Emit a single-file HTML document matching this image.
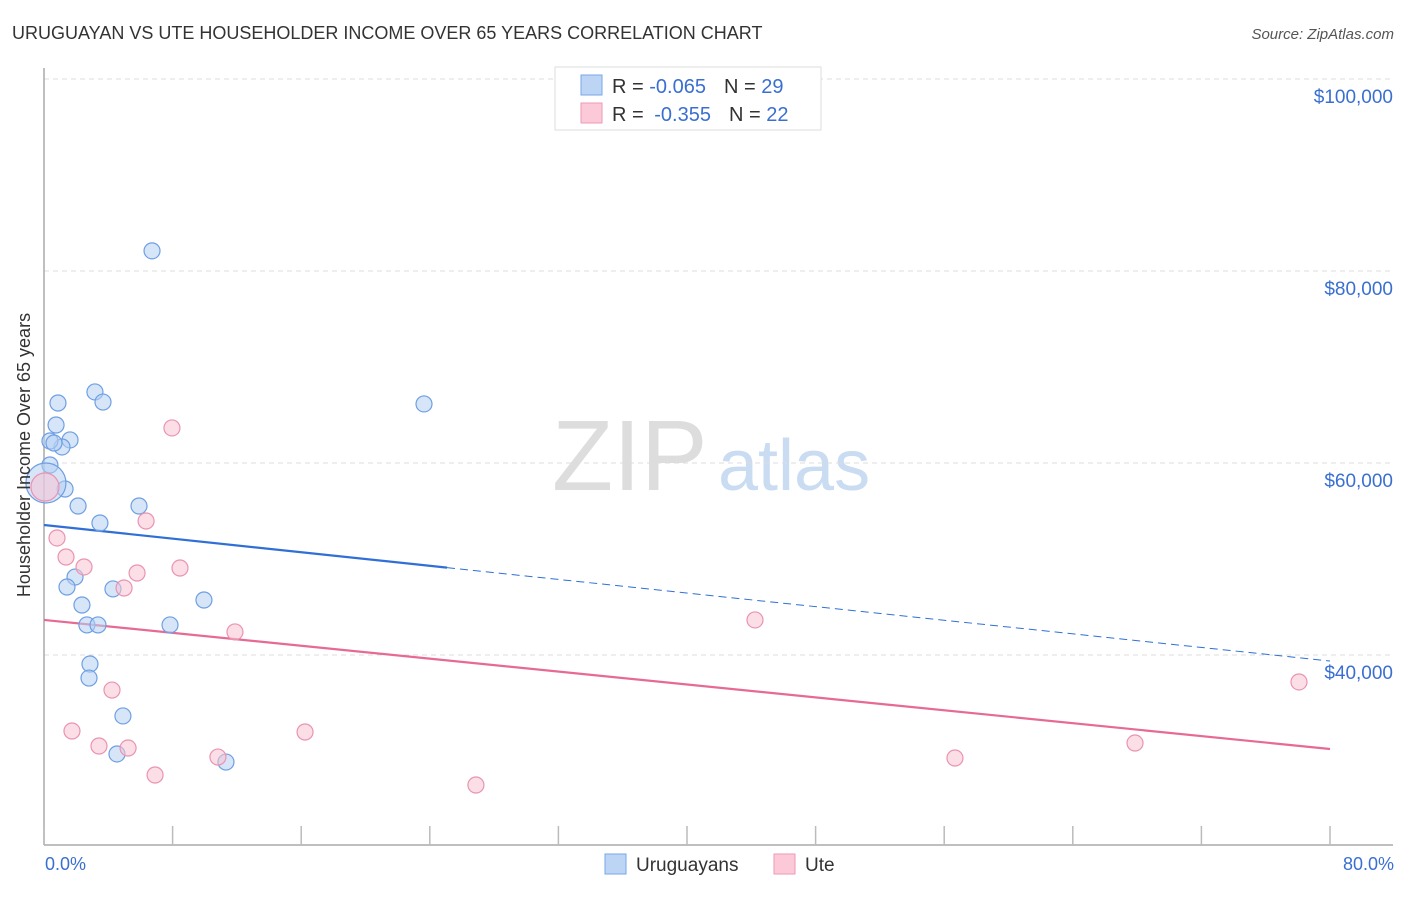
<!DOCTYPE html>
<html><head><meta charset="utf-8"><style>
body{margin:0;background:#fff;font-family:"Liberation Sans",sans-serif}
svg text{font-family:"Liberation Sans",sans-serif}
</style></head><body>
<svg id="chart" width="1406" height="892" viewBox="0 0 1406 892">
<text x="12" y="39" font-size="18" fill="#333">URUGUAYAN VS UTE HOUSEHOLDER INCOME OVER 65 YEARS CORRELATION CHART</text>
<text x="1394" y="39" font-size="15" fill="#555" font-style="italic" text-anchor="end">Source: ZipAtlas.com</text>
<g>
<text x="552" y="490" font-size="100" fill="#ddd" font-family="Liberation Serif">ZIP</text>
<text x="718" y="490" font-size="72" fill="#c9dcf2">atlas</text>
</g>
<g id="grid"></g>
<g id="axes"></g>
<g id="lines"></g>
<g id="points"></g>
<text x="30" y="455" font-size="18" fill="#333" text-anchor="middle" transform="rotate(-90 30 455)">Householder Income Over 65 years</text>
<text x="45" y="870" font-size="18" fill="#3a6fd1">0.0%</text>
<text x="1394" y="870" font-size="18" fill="#3a6fd1" text-anchor="end">80.0%</text>
<g>
<rect x="555" y="67" width="266" height="63" fill="#fff" stroke="#ddd"/>
<rect x="581" y="75" width="21" height="20" fill="#bcd5f5" stroke="#7aa6e6"/>
<rect x="581" y="103" width="21" height="20" fill="#fbc9d8" stroke="#ee9ab5"/>
<text x="612" y="93" font-size="20" fill="#333">R = <tspan fill="#3a6fd1">-0.065</tspan><tspan dx="18">N = </tspan><tspan fill="#3a6fd1">29</tspan></text>
<text x="612" y="121" font-size="20" fill="#333">R = <tspan fill="#3a6fd1" dx="5">-0.355</tspan><tspan dx="18">N = </tspan><tspan fill="#3a6fd1">22</tspan></text>
</g>
<g>
<rect x="605" y="854" width="21" height="20" fill="#bcd5f5" stroke="#7aa6e6"/>
<text x="636" y="871" font-size="19" fill="#333">Uruguayans</text>
<rect x="774" y="854" width="21" height="20" fill="#fbc9d8" stroke="#ee9ab5"/>
<text x="805" y="871" font-size="19" fill="#333">Ute</text>
</g>
</svg>
<script>
const blueX=[6.72,3.17,3.67,0.87,23.64,0.75,1.62,1.12,0.37,0.37,1.31,2.12,5.91,3.48,1.93,1.43,4.29,2.36,9.95,2.67,3.36,7.84,2.86,2.80,4.91,4.54,11.32,0.12,0.62];
const blueY=[82100,67400,66350,66250,66150,63960,62400,61670,62290,59790,57290,55520,55520,53750,48120,47080,46880,45210,45730,43130,43130,43130,39060,37600,33650,29690,28850,57920,62080];
const blueR=[8,8,8,8,8,8,8,8,8,8,8,8,8,8,8,8,8,8,8,8,8,8,8,8,8,8,8,20,8];
const pinkX=[7.96,6.35,0.81,1.37,2.49,5.79,8.46,4.98,11.88,44.23,4.23,1.74,3.42,5.23,16.24,10.82,6.91,26.87,56.67,67.87,78.07,0.06];
const pinkY=[63650,53960,52190,50210,49170,48540,49060,46980,42400,43650,36350,32080,30520,30310,31980,29370,27500,26460,29270,30830,37190,57500];
const pinkR=[8,8,8,8,8,8,8,8,8,8,8,8,8,8,8,8,8,8,8,8,8,14];
const yTicks=[100000,80000,60000,40000];
const yTickLabels=["$100,000","$80,000","$60,000","$40,000"];
const xTicks=[0,8,16,24,32,40,48,56,64,72,80];
const blueTrend=[53540,39370];
const pinkTrend=[43650,30210];
const blueSolidEnd=25.07;
const NS="http://www.w3.org/2000/svg";
const sx=v=>44+v/80*1286;
const sy=v=>79+(100000-v)/20000*192;
function mk(tag,attrs,parent){const e=document.createElementNS(NS,tag);for(const k in attrs)e.setAttribute(k,attrs[k]);document.getElementById(parent).appendChild(e);return e;}
yTicks.forEach((t,i)=>{
 const g=mk('line',{x1:44,x2:1393,y1:sy(t),y2:sy(t),stroke:'#ddd','stroke-dasharray':'5,4'},'grid');
 
 
 const l=mk('text',{x:1393,y:sy(t)+24,'font-size':19,fill:'#3a6fd1','text-anchor':'end'},'grid');
 l.textContent=yTickLabels[i];
 
 
});
const ya=mk('line',{x1:44,x2:44,y1:68,y2:845,stroke:'#aaa','stroke-width':1.5},'axes');


const xa=mk('line',{x1:44,x2:1393,y1:845,y2:845,stroke:'#aaa','stroke-width':1.5},'axes');


xTicks.forEach(t=>{
 const k=mk('line',{x1:sx(t),x2:sx(t),y1:826,y2:845,stroke:'#bbb','stroke-width':1.5},'axes');
 
 
});
function pts(X,Y,R,fill,stroke,name){
 X.forEach((x,i)=>{
  const c=mk('circle',{cx:sx(x),cy:sy(Y[i]),r:R[i],fill:fill,'fill-opacity':0.55,stroke:stroke,'stroke-width':1.2},'points');
  
  
 });
}
pts(blueX,blueY,blueR,'#b4cff3','#6e9fe2','uruguayan-point');
pts(pinkX,pinkY,pinkR,'#f9c2d3','#ea93b0','ute-point');
const by=x=>blueTrend[0]+(blueTrend[1]-blueTrend[0])*x/80;
const b1=mk('line',{x1:sx(0),y1:sy(by(0)),x2:sx(blueSolidEnd),y2:sy(by(blueSolidEnd)),stroke:'#2f6fd6','stroke-width':2.2},'lines');


const b2=mk('line',{x1:sx(blueSolidEnd),y1:sy(by(blueSolidEnd)),x2:sx(80),y2:sy(by(80)),stroke:'#2f6fd6','stroke-width':1,'stroke-dasharray':'8,5'},'lines');


const p1=mk('line',{x1:sx(0),y1:sy(pinkTrend[0]),x2:sx(80),y2:sy(pinkTrend[1]),stroke:'#e66a94','stroke-width':2.2},'lines');


</script>
</body></html>
